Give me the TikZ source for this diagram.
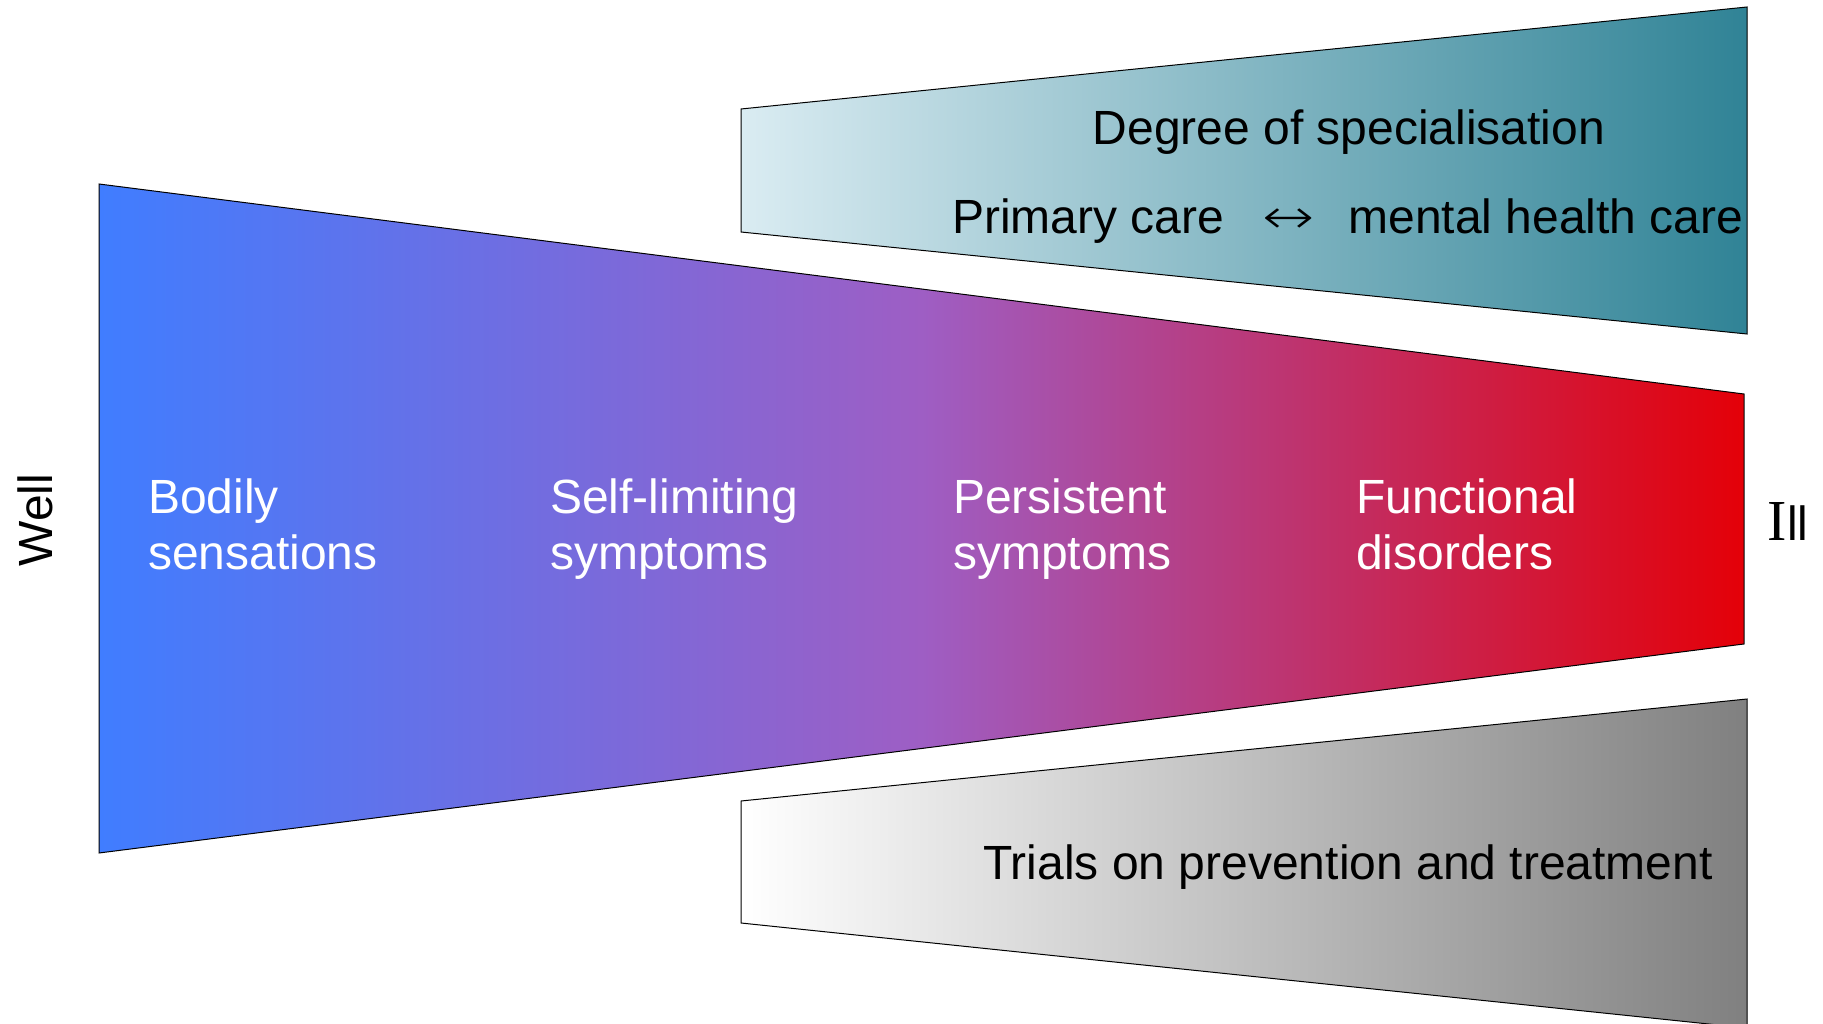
\documentclass[tikz,border=0pt]{standalone}
\usepackage{fontspec}
\usepackage{graphicx}
\setmainfont{Liberation Sans}
\newfontfamily\serifI{Liberation Serif}
\newfontfamily\arrowfont{DejaVu Sans ExtraLight}
\definecolor{cblue}{RGB}{64,125,255}
\definecolor{cviolet}{RGB}{158,94,196}
\definecolor{cred}{RGB}{228,0,8}
\definecolor{clight}{RGB}{218,236,242}
\definecolor{cteal}{RGB}{48,131,150}
\definecolor{cgray}{RGB}{128,128,128}
\pgfdeclarehorizontalshading{mainsh}{100bp}{color(0bp)=(cblue); color(25bp)=(cblue); color(50bp)=(cviolet); color(75bp)=(cred); color(100bp)=(cred)}
\tikzset{
  panel/.style={draw=black, line width=1pt},
  lbl/.style={font=\fontsize{48}{56}\selectfont, inner sep=0pt},
  inlbl/.style={lbl, text=white, align=left, anchor=north west},
}
\begin{document}
\begin{tikzpicture}[x=1pt,y=-1pt]
\useasboundingbox (0,0) rectangle (1823,1024);
\begin{scope}
\clip (0,0) rectangle (1823,1024);
% top panel
\shade[panel, left color=clight, right color=cteal] (741,109) -- (1747,7) -- (1747,334) -- (741,232) -- cycle;
% main panel
\shade[panel, shading=mainsh] (99,184) -- (1744,394) -- (1744,644) -- (99,853) -- cycle;
% bottom panel
\shade[panel, left color=white, right color=cgray] (741,801) -- (1747,699) -- (1747,1028) -- (741,923) -- cycle;
\end{scope}
\node[lbl] (spec) at (1349,132) {Degree of specialisation};
\node[lbl, anchor=west] (care) at (952,221) {Primary care\hspace{0.8em}\scalebox{1.3}[1]{\arrowfont ↔}\hspace{0.7em}mental health care};
\node[lbl] (trials) at (1348,867) {Trials on prevention and treatment};
\node[inlbl] (n1) at (148,474) {\strut Bodily\\sensations};
\node[inlbl] (n2) at (550,474) {\strut Self-limiting\\symptoms};
\node[inlbl] (n3) at (953,474) {\strut Persistent\\symptoms};
\node[inlbl] (n4) at (1356,474) {\strut Functional\\disorders};
\node[lbl, rotate=90] (well) at (35,520) {Well};
\node[lbl] (ill) at (1788,522) {{\serifI\fontsize{58}{58}\selectfont I}ll};
\end{tikzpicture}
\end{document}
